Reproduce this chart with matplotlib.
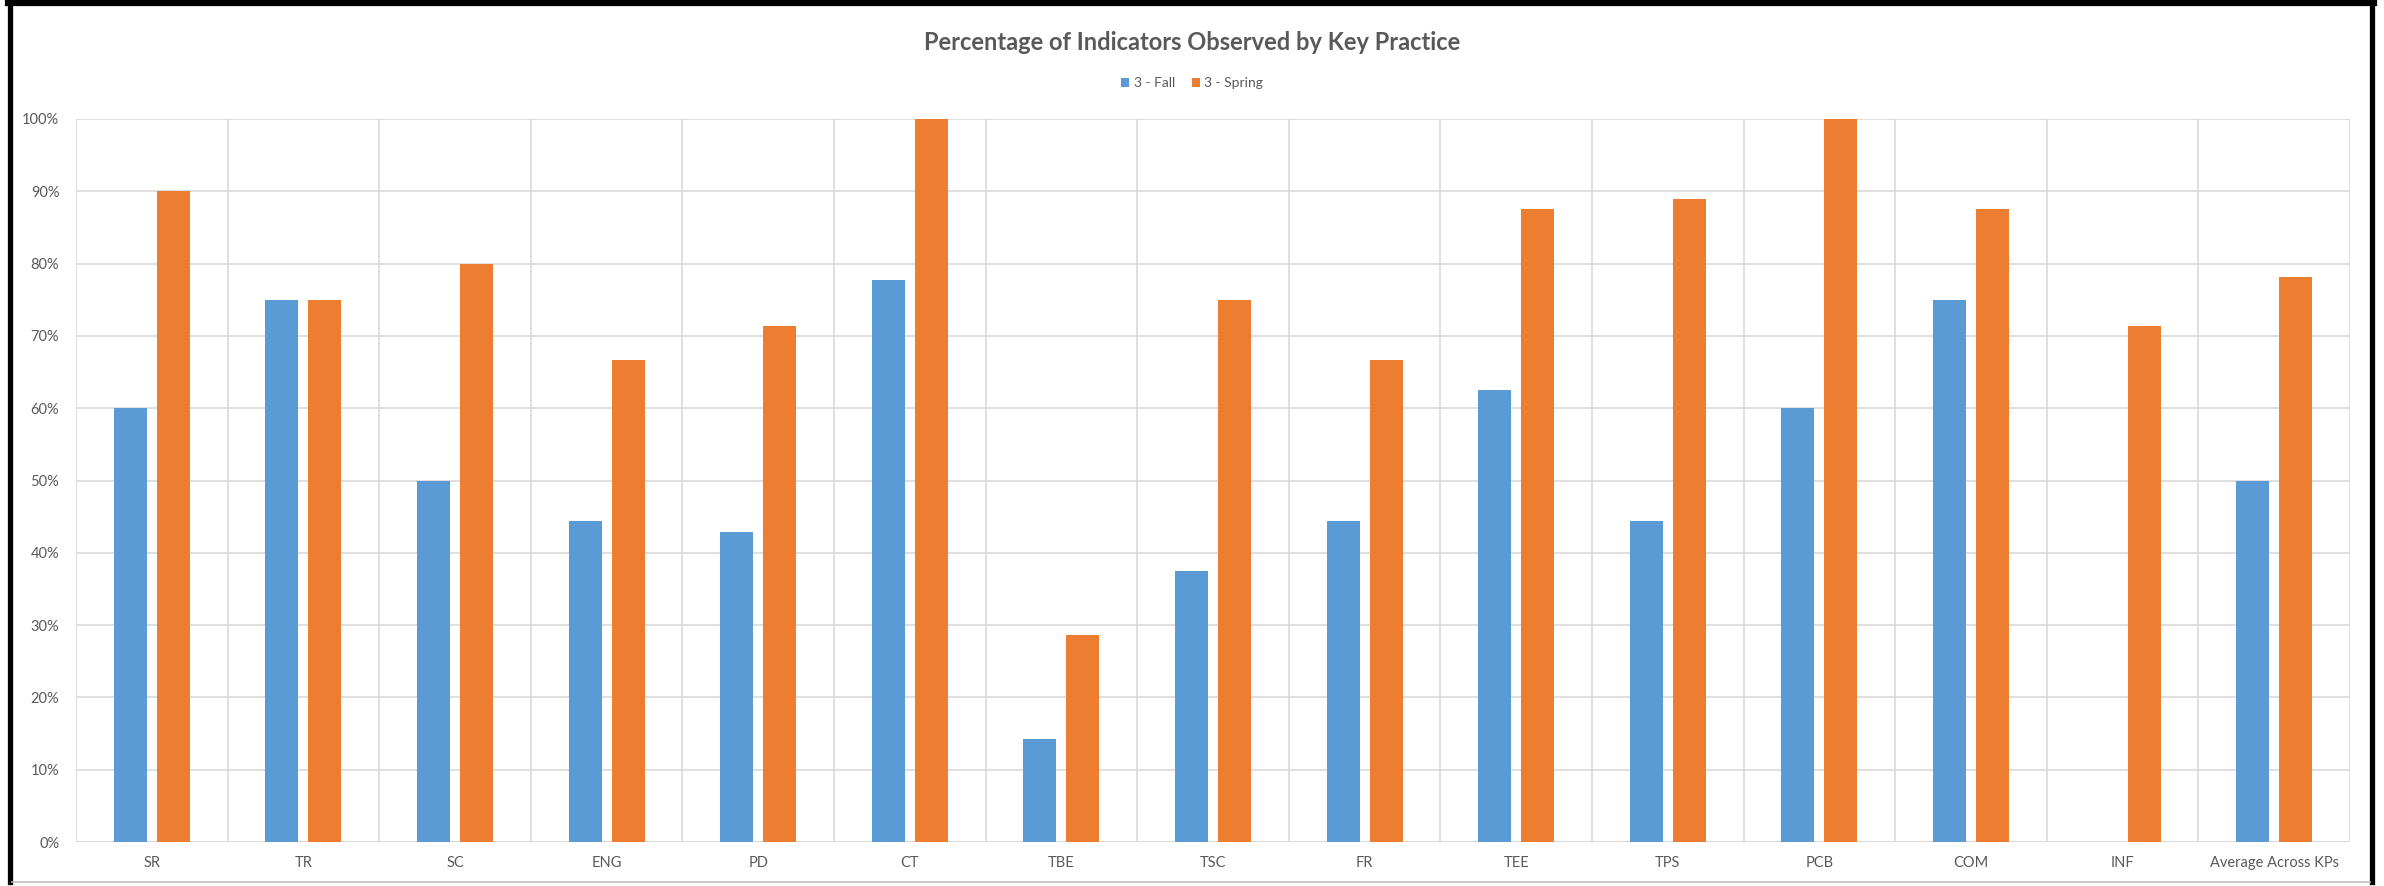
import numpy as np
import matplotlib
matplotlib.use("Agg")
import matplotlib.pyplot as plt
from matplotlib.lines import Line2D

# data
practices = ['SR', 'TR', 'SC', 'ENG', 'PD', 'CT', 'TBE', 'TSC', 'FR',
             'TEE', 'TPS', 'PCB', 'COM', 'INF', 'Average Across KPs']
fall = [60, 75, 50, 44.4, 42.9, 77.8, 14.3, 37.5, 44.4, 62.5, 44.4, 60, 75, 0, 50]
spring = [90, 75, 80, 66.7, 71.4, 100, 28.6, 75, 66.7, 87.5, 88.9, 100, 87.5, 71.4, 78.1]
yticks = list(range(0, 101, 10))

BLUE = '#5B9BD5'
ORANGE = '#ED7D31'
GREY_TXT = '#595959'
GRID = '#D9D9D9'

plt.rcParams['font.family'] = ['Lato', 'DejaVu Sans']

W, H = 2384, 886
fig = plt.figure(figsize=(W / 100, H / 100), dpi=100)
ax = fig.add_axes([76 / W, 1 - 842 / H, (2350 - 76) / W, (842 - 119) / H])

x = np.arange(len(practices))
bw = 0.218
off = 0.142
ax.bar(x - off, fall, bw, color=BLUE, linewidth=0, label='3 - Fall', zorder=3)
ax.bar(x + off, spring, bw, color=ORANGE, linewidth=0, label='3 - Spring', zorder=3)

ax.set_xlim(-0.5, len(practices) - 0.5)
ax.set_ylim(0, 100)
ax.set_yticks(yticks)
ax.set_yticklabels([f'{t}%' for t in yticks])
ax.set_xticks(x)
ax.set_xticklabels(practices)
ax.tick_params(axis='both', length=0, labelsize=10.5, labelcolor=GREY_TXT)
ax.tick_params(axis='y', pad=12)
ax.tick_params(axis='x', pad=10)

# horizontal gridlines + vertical category dividers
ax.set_axisbelow(True)
ax.yaxis.grid(True, color=GRID, linewidth=1.2)
for b in np.arange(-0.5, len(practices), 1.0):
    ax.axvline(b, color=GRID, linewidth=1.2, zorder=1)
for s in ax.spines.values():
    s.set_visible(False)
ax.axhline(0, color=GRID, linewidth=1.2, zorder=2)

fig.text(0.5, 1 - 42 / H, 'Percentage of Indicators Observed by Key Practice',
         ha='center', va='center', fontsize=17, fontweight='bold', color=GREY_TXT)

fig.legend(loc='center', bbox_to_anchor=(0.5, 1 - 83 / H), ncol=2, frameon=False,
           fontsize=10, labelcolor=GREY_TXT, handlelength=0.6, handleheight=0.6,
           handletextpad=0.3, columnspacing=1.2)

# outer frame of the screenshot
def fl(x0, y0, x1, y1, c, lw):
    fig.add_artist(Line2D([x0 / W, x1 / W], [1 - y0 / H, 1 - y1 / H],
                          color=c, linewidth=lw, transform=fig.transFigure))

fl(9.5, 0, 9.5, 882, 'black', 3.8)
fl(2372, 0, 2372, 882, 'black', 3.8)
fl(8, 2.5, 2374, 2.5, 'black', 4.5)
fl(12, 882, 2370, 882, '#BFBFBF', 1.2)

fig.savefig('out.png', dpi=100, facecolor='white')
